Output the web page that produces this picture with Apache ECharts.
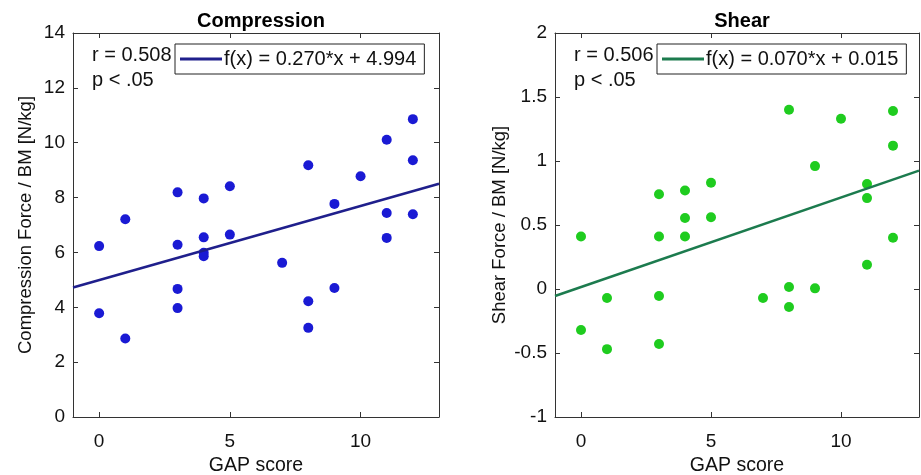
<!DOCTYPE html>
<html>
<head>
<meta charset="utf-8">
<script src="https://cdn.jsdelivr.net/npm/echarts@6/dist/echarts.min.js"></script>
<style>
  html, body { margin: 0; padding: 0; background: #fff; }
  #chart { width: 921px; height: 475px; }
</style>
</head>
<body>
<div id="chart"></div>
<script>
// GAP score vs force per body mass
const compGap = [0, 0, 1, 1, 3, 3, 3, 3, 4, 4, 4, 4, 5, 5, 7, 8, 8, 8, 9, 9, 10, 11, 11, 11, 12, 12, 12];
const compForce = [6.23, 3.78, 7.21, 2.86, 8.19, 6.28, 4.67, 3.97, 7.97, 6.55, 5.99, 5.86, 8.41, 6.65, 5.62, 9.18, 4.22, 3.25, 7.77, 4.70, 8.78, 10.11, 7.44, 6.53, 10.86, 9.36, 7.39];
const shearGap = [0, 0, 1, 1, 3, 3, 3, 3, 4, 4, 4, 5, 5, 7, 8, 8, 8, 9, 9, 10, 11, 11, 11, 12, 12, 12];
const shearForce = [0.41, -0.32, -0.07, -0.47, 0.74, 0.41, -0.055, -0.43, 0.77, 0.555, 0.41, 0.83, 0.56, -0.07, 1.40, 0.015, -0.14, 0.96, 0.005, 1.33, 0.82, 0.71, 0.19, 1.39, 1.12, 0.40];

// fitted lines, as printed in the legends
const compFit = { slope: 0.270, intercept: 4.994, label: 'f(x) = 0.270*x + 4.994' };
const shearFit = { slope: 0.070, intercept: 0.015, label: 'f(x) = 0.070*x + 0.015' };

const xRange = [-1, 13];
const xTicks = [0, 5, 10];

const FONT = 'Liberation Sans, Arial, sans-serif';
const AXIS_COLOR = '#333';

function fitLine(fit) {
  return xRange.map(x => [x, +(fit.slope * x + fit.intercept).toFixed(4)]);
}

function zip(xs, ys) {
  return xs.map((x, i) => [x, ys[i]]);
}

function xAxisOf(grid, pos, name) {
  return {
    type: 'value', gridIndex: grid, position: pos,
    min: xRange[0], max: xRange[1],
    name: name || '', nameLocation: 'middle', nameGap: 39,
    nameTextStyle: { fontFamily: FONT, fontSize: 19.5, color: '#111' },
    axisLine: { show: true, onZero: false, lineStyle: { color: AXIS_COLOR, width: 1 } },
    axisTick: { show: true, inside: true, length: 5, customValues: xTicks, lineStyle: { color: AXIS_COLOR } },
    axisLabel: { show: pos === 'bottom', customValues: xTicks, margin: 15, fontFamily: FONT, fontSize: 19, color: '#111' },
    splitLine: { show: false }
  };
}

function yAxisOf(grid, pos, min, max, interval, name) {
  return {
    type: 'value', gridIndex: grid, position: pos,
    min: min, max: max, interval: interval,
    name: name || '', nameLocation: 'middle', nameGap: pos === 'left' ? (grid === 0 ? 38 : 46) : 0,
    nameTextStyle: { fontFamily: FONT, fontSize: 18.5, color: '#111' },
    axisLine: { show: true, onZero: false, lineStyle: { color: AXIS_COLOR, width: 1 } },
    axisTick: { show: true, inside: true, length: 5, lineStyle: { color: AXIS_COLOR } },
    axisLabel: { show: pos === 'left', margin: 8, fontFamily: FONT, fontSize: 19, color: '#111' },
    splitLine: { show: false }
  };
}

function legendAt(left, name) {
  return {
    data: [{ name: name, icon: 'rect' }], left: left, top: 44,
    orient: 'horizontal',
    itemWidth: 42, itemHeight: 3, itemGap: 4,
    padding: [5, 8, 5, 5],
    borderColor: '#222', borderWidth: 1, backgroundColor: '#fff',
    textStyle: { fontFamily: FONT, fontSize: 20, color: '#111', padding: [0, 0, 0, -3] }
  };
}

const chart = echarts.init(document.getElementById('chart'));
chart.setOption({
  animation: false,
  backgroundColor: '#fff',
  title: [
    { text: 'Compression', left: 256, top: 6, textAlign: 'center',
      textStyle: { fontFamily: FONT, fontSize: 20, fontWeight: 'bold', color: '#000' } },
    { text: 'Shear', left: 737, top: 6, textAlign: 'center',
      textStyle: { fontFamily: FONT, fontSize: 20, fontWeight: 'bold', color: '#000' } },
    { text: 'r = 0.508\np < .05', left: 87, top: 38,
      textStyle: { fontFamily: FONT, fontSize: 20, fontWeight: 'normal', color: '#111', lineHeight: 25 } },
    { text: 'r = 0.506\np < .05', left: 569, top: 38,
      textStyle: { fontFamily: FONT, fontSize: 20, fontWeight: 'normal', color: '#111', lineHeight: 25 } }
  ],
  legend: [legendAt(175, compFit.label), legendAt(657, shearFit.label)],
  grid: [
    { left: 73, top: 33, width: 366, height: 384, outerBoundsMode: 'none', containLabel: false },
    { left: 555, top: 33, width: 364, height: 384, outerBoundsMode: 'none', containLabel: false }
  ],
  xAxis: [
    xAxisOf(0, 'bottom', 'GAP score'),
    xAxisOf(0, 'top'),
    xAxisOf(1, 'bottom', 'GAP score'),
    xAxisOf(1, 'top')
  ],
  yAxis: [
    yAxisOf(0, 'left', 0, 14, 2, 'Compression Force / BM [N/kg]'),
    yAxisOf(0, 'right', 0, 14, 2),
    yAxisOf(1, 'left', -1, 2, 0.5, 'Shear Force / BM [N/kg]'),
    yAxisOf(1, 'right', -1, 2, 0.5)
  ],
  series: [
    { type: 'scatter', name: 'comp', xAxisIndex: 0, yAxisIndex: 0,
      data: zip(compGap, compForce), symbolSize: 10,
      itemStyle: { color: '#1a1ad4', opacity: 1 } },
    { type: 'line', name: compFit.label, xAxisIndex: 0, yAxisIndex: 0,
      data: fitLine(compFit), showSymbol: false, symbol: 'none',
      lineStyle: { color: '#1f1f8c', width: 2.5 }, itemStyle: { color: '#1f1f8c' } },
    { type: 'scatter', name: 'shear', xAxisIndex: 2, yAxisIndex: 2,
      data: zip(shearGap, shearForce), symbolSize: 10,
      itemStyle: { color: '#1fcc1f', opacity: 1 } },
    { type: 'line', name: shearFit.label, xAxisIndex: 2, yAxisIndex: 2,
      data: fitLine(shearFit), showSymbol: false, symbol: 'none',
      lineStyle: { color: '#1c7b4e', width: 2.5 }, itemStyle: { color: '#1c7b4e' } }
  ]
});
</script>
</body>
</html>
